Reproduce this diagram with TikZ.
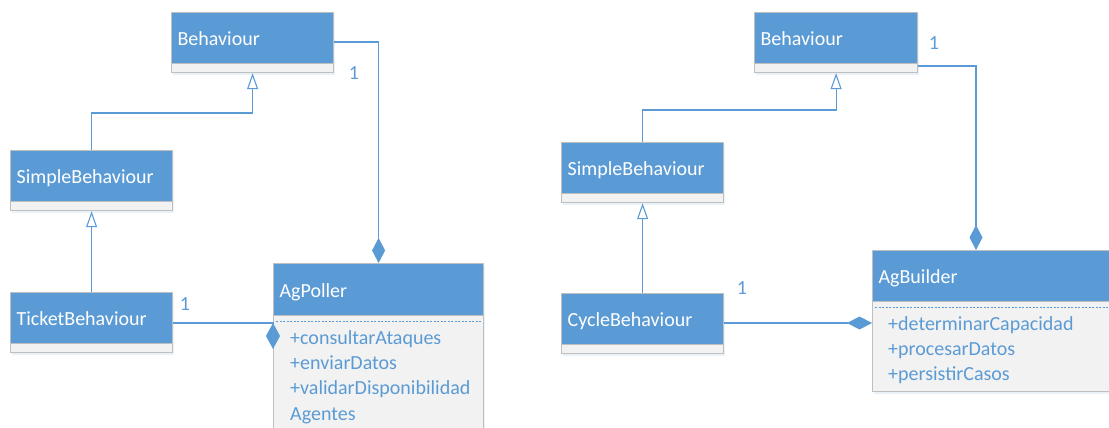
\documentclass[tikz,border=0pt]{standalone}
\usepackage{fontspec}
\setmainfont{Carlito}
\usepackage{xcolor}
\usepackage{tikz}
\usetikzlibrary{arrows.meta,shadows}

\definecolor{umlblue}{HTML}{5B9BD5}
\definecolor{umlgray}{HTML}{BFBFBF}
\definecolor{umlpale}{HTML}{F2F2F2}
\newcommand{\umlfont}{\fontsize{20}{25.4}\selectfont}

\begin{document}
\begin{tikzpicture}[x=1pt, y=-1pt,
  soft/.style={drop shadow={shadow xshift=1pt, shadow yshift=-2.5pt,
               fill=umlblue!30, opacity=0.45}},
  head/.style={draw=umlgray, line width=1.2pt, fill=umlblue, text=white,
               font=\umlfont, anchor=north west, align=left, soft,
               inner xsep=6pt, inner ysep=0pt, text width=#1-12pt,
               text height=17pt, text depth=2pt, minimum height=51pt},
  comp/.style={draw=umlgray, line width=1.2pt, fill=umlpale, soft,
               anchor=north west, inner sep=0pt, minimum width=#1},
  ops/.style={text=umlblue, font=\umlfont, anchor=base west, align=left,
              inner sep=0pt, text width=260pt},
  mult/.style={text=umlblue, font=\umlfont, inner sep=0pt},
  sep/.style={umlblue, line width=0.6pt, dash pattern=on 2pt off 1.5pt},
  gen/.style={umlblue, line width=1.1pt,
              -{Triangle[open, fill=white, length=16pt, width=11pt]}},
  compo/.style={umlblue, line width=1.1pt, -{Diamond[length=25pt, width=13pt]}},
]
  \useasboundingbox (0,0) rectangle (1109,428);
  \clip (0,0) rectangle (1109,428);

  \node[head=162pt] (bhL) at (171,12) {Behaviour};
  \node[comp=162pt, minimum height=9pt] (bhLc) at (171,63) {};
  \node[head=162pt] (sbL) at (10,150) {SimpleBehaviour};
  \node[comp=162pt, minimum height=9pt] (sbLc) at (10,201) {};
  \node[head=162pt] (tbL) at (10,292) {TicketBehaviour};
  \node[comp=162pt, minimum height=9pt] (tbLc) at (10,343) {};
  \node[head=210pt, minimum height=52pt] (pollerH) at (273,263) {AgPoller};
  \node[comp=210pt, minimum height=125pt] (pollerC) at (273,315) {};
  \draw[sep] (276,321) -- (481,321);
  \node[ops] (pollerOps) at (290,344)
    {+consultarAtaques\\+enviarDatos\\+validarDisponibilidad\\Agentes};

  \node[head=163pt] (bhR) at (754,12) {Behaviour};
  \node[comp=163pt, minimum height=9pt] (bhRc) at (754,63) {};
  \node[head=162pt] (sbR) at (561,142) {SimpleBehaviour};
  \node[comp=162pt, minimum height=9pt] (sbRc) at (561,193) {};
  \node[head=162pt] (cbR) at (561,293) {CycleBehaviour};
  \node[comp=162pt, minimum height=9pt] (cbRc) at (561,344) {};
  \node[head=260pt] (builderH) at (872,250) {AgBuilder};
  \node[comp=260pt, minimum height=90pt] (builderC) at (872,301) {};
  \draw[sep] (875,307) -- (1109,307);
  \node[ops] (builderOps) at (888,330)
    {+determinarCapacidad\\+procesarDatos\\+persistirCasos};

  \coordinate (pollerIn) at (273,349);

  \draw[gen] (sbL.north) -- ++(0,-37) -| (bhLc.south);
  \draw[gen] (tbL.north) -- (sbLc.south);
  \draw[compo] (bhL.east |- 0,42) -| (pollerH.north);
  \draw[umlblue, line width=1.1pt, {Diamond[length=26pt, width=14pt]}-]
    (pollerIn) -- ++(0,-26) -- (tbL.east |- 0,323);

  \draw[gen] (sbR.north) -- ++(0,-32) -| (bhRc.south);
  \draw[gen] (cbR.north) -- (sbRc.south);
  \draw[compo] (bhRc.east |- 0,66) -| (976,250);
  \draw[compo] (cbR.east |- 0,323) -- (builderC.west |- 0,323);

  \node[mult] (m1) at (354,73) {1};
  \node[mult] (m2) at (185,304) {1};
  \node[mult] (m3) at (934,43) {1};
  \node[mult] (m4) at (742,288) {1};
\end{tikzpicture}
\end{document}
